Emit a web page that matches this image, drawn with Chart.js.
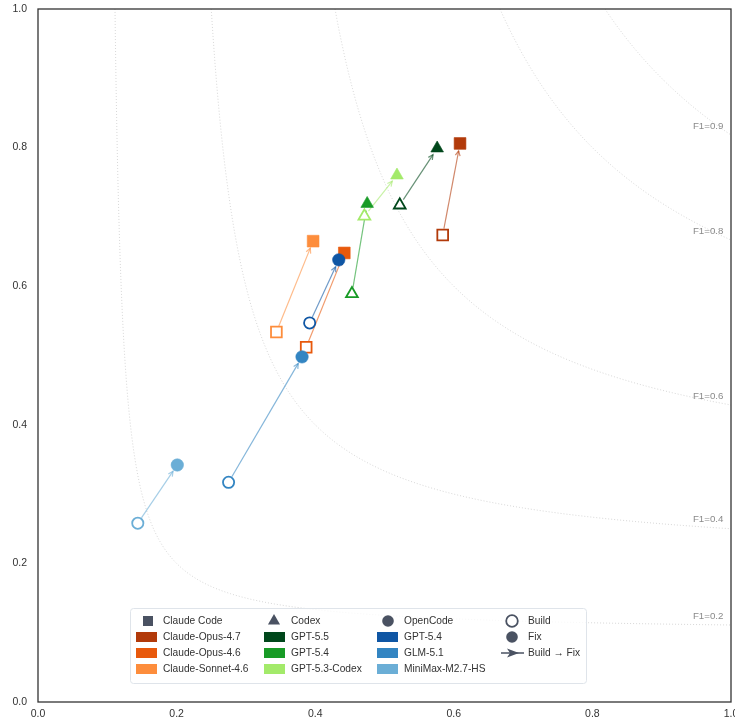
<!DOCTYPE html>
<html><head><meta charset="utf-8">
<script src="https://cdn.jsdelivr.net/npm/chart.js@4"></script>
<style>html,body{margin:0;padding:0;background:#fff}canvas{display:block}</style>
</head><body>
<canvas id="c" width="735" height="726"></canvas>
<script>
// ---- data ----
const toolNames = ['Claude Code', 'Codex', 'OpenCode'];
const toolShapes = ['rect', 'triangle', 'circle'];
const modelNames = ['Claude-Opus-4.7', 'Claude-Opus-4.6', 'Claude-Sonnet-4.6',
                    'GPT-5.5', 'GPT-5.4', 'GPT-5.3-Codex',
                    'GPT-5.4', 'GLM-5.1', 'MiniMax-M2.7-HS'];
const modelTool = [0, 0, 0, 1, 1, 1, 2, 2, 2];
const modelColors = ['#b23a0a', '#e8590c', '#fd8d3c',
                     '#00471b', '#189b26', '#a3ea6a',
                     '#0f56a4', '#3385c2', '#6baed6'];
const buildX = [0.584, 0.387, 0.344, 0.522, 0.453, 0.471, 0.392, 0.275, 0.144];
const buildY = [0.674, 0.512, 0.534, 0.717, 0.589, 0.701, 0.547, 0.317, 0.258];
const fixX   = [0.609, 0.442, 0.397, 0.576, 0.475, 0.518, 0.434, 0.381, 0.201];
const fixY   = [0.806, 0.648, 0.665, 0.799, 0.719, 0.760, 0.638, 0.498, 0.342];
const f1Levels = [0.2, 0.4, 0.6, 0.8, 0.9];
const tickValues = [0, 0.2, 0.4, 0.6, 0.8, 1.0];
const legendKeys = ['Build', 'Fix', 'Build \u2192 Fix'];

const FONT = '"Liberation Sans", Arial, sans-serif';
const SLATE = '#4a5262';

function hexA(hex, a) {
  const n = parseInt(hex.slice(1), 16);
  return `rgba(${(n >> 16) & 255},${(n >> 8) & 255},${n & 255},${a})`;
}

// ---- datasets ----
const datasets = [];
// iso-F1 reference curves
f1Levels.forEach(f => {
  const x0 = f / (2 - f);
  const pts = [];
  const N = 300;
  for (let i = 0; i <= N; i++) {
    const t = i / N;
    const x = x0 + (1 - x0) * Math.pow(t, 2);
    pts.push({x: x, y: f * x / (2 * x - f)});
  }
  datasets.push({
    type: 'line', data: pts, showLine: true, pointRadius: 0,
    borderColor: 'rgba(170,170,170,0.6)', borderWidth: 0.8, borderDash: [1, 2],
    tension: 0, order: 10, f1: f
  });
});
// model datasets
modelNames.forEach((name, i) => {
  const t = modelTool[i];
  const shape = toolShapes[t];
  const c = modelColors[i];
  const rBuild = shape === 'rect' ? 7.6 : (shape === 'triangle' ? 6.8 : 5.6);
  const rFix = shape === 'rect' ? 8.3 : (shape === 'triangle' ? 7.3 : 6.2);
  datasets.push({
    type: 'scatter', label: name,
    data: [{x: buildX[i], y: buildY[i]}, {x: fixX[i], y: fixY[i]}],
    pointStyle: shape,
    pointRadius: [rBuild, rFix],
    pointHoverRadius: [rBuild, rFix],
    pointBackgroundColor: ['#ffffff', c],
    pointBorderColor: [c, c],
    pointBorderWidth: [1.8, 0.6],
    order: 3 - t, modelIndex: i
  });
});

// ---- plugins ----
const arrowPlugin = {
  id: 'arrows',
  beforeDatasetsDraw(chart) { chart.$arrowsDone = false; },
  beforeDatasetDraw(chart, args) {
    const ds = chart.data.datasets[args.index];
    if (ds.modelIndex === undefined || chart.$arrowsDone) return;
    chart.$arrowsDone = true;
    const ctx = chart.ctx, xs = chart.scales.x, ys = chart.scales.y;
    ctx.save();
    modelNames.forEach((n, i) => {
      const x0 = xs.getPixelForValue(buildX[i]), y0 = ys.getPixelForValue(buildY[i]);
      const x1 = xs.getPixelForValue(fixX[i]), y1 = ys.getPixelForValue(fixY[i]);
      const dx = x1 - x0, dy = y1 - y0, L = Math.hypot(dx, dy);
      const ux = dx / L, uy = dy / L;
      const sx = x0 + ux * 6.5, sy = y0 + uy * 6.5;
      const ex = x1 - ux * 7.5, ey = y1 - uy * 7.5;
      ctx.strokeStyle = hexA(modelColors[i], 0.6);
      ctx.lineWidth = 1.2;
      ctx.beginPath(); ctx.moveTo(sx, sy); ctx.lineTo(ex, ey); ctx.stroke();
      const a = Math.atan2(uy, ux), hl = 5.5, ha = 0.45;
      ctx.beginPath();
      ctx.moveTo(ex - hl * Math.cos(a - ha), ey - hl * Math.sin(a - ha));
      ctx.lineTo(ex, ey);
      ctx.lineTo(ex - hl * Math.cos(a + ha), ey - hl * Math.sin(a + ha));
      ctx.stroke();
    });
    ctx.restore();
  }
};

function drawMarker(ctx, shape, x, y, fill, stroke, lw) {
  ctx.beginPath();
  if (shape === 'rect') {
    ctx.rect(x - 5, y - 5, 10, 10);
  } else if (shape === 'triangle') {
    const r = 7;
    ctx.moveTo(x, y - r);
    ctx.lineTo(x + r * 0.866, y + r * 0.5);
    ctx.lineTo(x - r * 0.866, y + r * 0.5);
    ctx.closePath();
  } else {
    ctx.arc(x, y, 5.8, 0, Math.PI * 2);
  }
  if (fill) { ctx.fillStyle = fill; ctx.fill(); }
  if (stroke) { ctx.strokeStyle = stroke; ctx.lineWidth = lw; ctx.stroke(); }
}

const decorPlugin = {
  id: 'decor',
  afterDraw(chart) {
    const ctx = chart.ctx, a = chart.chartArea;
    const xs = chart.scales.x, ys = chart.scales.y;
    ctx.save();
    // F1 labels
    ctx.font = '9.7px ' + FONT;
    ctx.fillStyle = '#8a8a8a';
    ctx.textAlign = 'right';
    ctx.textBaseline = 'middle';
    f1Levels.forEach(f => {
      const yv = f / (2 - f);
      ctx.fillText('F1=' + f.toFixed(1), xs.getPixelForValue(0.989), ys.getPixelForValue(yv) - 9);
    });
    // frame
    ctx.strokeStyle = '#333333';
    ctx.lineWidth = 1.3;
    ctx.strokeRect(a.left, a.top, a.right - a.left, a.bottom - a.top);

    // legend box
    const bx = 130.5, by = 608.5, bw = 456, bh = 75;
    ctx.beginPath();
    ctx.roundRect(bx, by, bw, bh, 3);
    ctx.fillStyle = 'rgba(255,255,255,0.82)';
    ctx.fill();
    ctx.strokeStyle = '#dfe4ea';
    ctx.lineWidth = 1;
    ctx.stroke();

    const rows = [621, 637, 653, 669];
    const swX = [136, 264, 377];
    const txX = [163, 291, 404];
    const mkX = [148, 274, 388];
    ctx.font = '10.2px ' + FONT;
    ctx.textAlign = 'left';
    ctx.textBaseline = 'middle';
    toolNames.forEach((tn, t) => {
      drawMarker(ctx, toolShapes[t], mkX[t], rows[0], SLATE, null, 0);
      ctx.fillStyle = '#333333';
      ctx.fillText(tn, txX[t], rows[0] + 0.5);
      let k = 1;
      modelNames.forEach((mn, i) => {
        if (modelTool[i] !== t) return;
        const ry = rows[k++];
        ctx.fillStyle = modelColors[i];
        ctx.fillRect(swX[t], ry - 5, 21, 10);
        ctx.fillStyle = '#333333';
        ctx.fillText(mn, txX[t], ry + 0.5);
      });
    });
    // Build / Fix / arrow
    drawMarker(ctx, 'circle', 512, rows[0], '#ffffff', SLATE, 1.8);
    drawMarker(ctx, 'circle', 512, rows[1], SLATE, null, 0);
    ctx.strokeStyle = SLATE; ctx.lineWidth = 1.5;
    ctx.beginPath(); ctx.moveTo(501, rows[2]); ctx.lineTo(524, rows[2]); ctx.stroke();
    ctx.fillStyle = SLATE;
    ctx.beginPath();
    ctx.moveTo(519, rows[2]); ctx.lineTo(507, rows[2] - 4.5); ctx.lineTo(510, rows[2]);
    ctx.lineTo(507, rows[2] + 4.5); ctx.closePath(); ctx.fill();
    ctx.fillStyle = '#333333';
    legendKeys.forEach((s, j) => ctx.fillText(s, 528, rows[j] + 0.5));
    ctx.restore();
  }
};

const tickCfg = (pad) => ({
  padding: pad,
  autoSkip: false,
  maxRotation: 0,
  color: '#333333',
  font: {family: FONT, size: 10.5},
  callback: v => Number(v).toFixed(1)
});

new Chart(document.getElementById('c'), {
  type: 'scatter',
  data: {datasets},
  options: {
    responsive: false,
    animation: false,
    events: [],
    layout: {autoPadding: false, padding: {top: 9, right: 4, left: 0, bottom: 0}},
    plugins: {legend: {display: false}, tooltip: {enabled: false}},
    scales: {
      x: {
        type: 'linear', min: 0, max: 1,
        afterBuildTicks: s => { s.ticks = tickValues.map(v => ({value: v})); },
        ticks: tickCfg(6),
        grid: {display: false, drawTicks: false}, border: {display: false},
        afterFit: s => { s.height = 24; s.paddingLeft = 0; s.paddingRight = 0; }
      },
      y: {
        type: 'linear', min: 0, max: 1,
        afterBuildTicks: s => { s.ticks = tickValues.map(v => ({value: v})); },
        ticks: tickCfg(11),
        grid: {display: false, drawTicks: false}, border: {display: false},
        afterFit: s => { s.width = 38; s.paddingTop = 0; s.paddingBottom = 0; }
      }
    }
  },
  plugins: [arrowPlugin, decorPlugin]
});
</script>
</body></html>
